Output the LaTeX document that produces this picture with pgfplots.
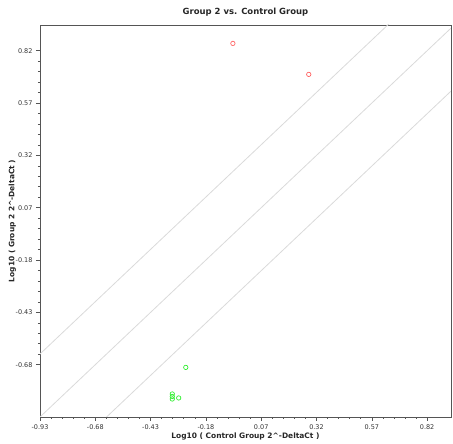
\documentclass[border=0pt]{standalone}
\usepackage{fontspec}
\setmainfont{DejaVu Sans}
\usepackage{pgfplots}
\pgfplotsset{compat=1.18}
\definecolor{frame}{HTML}{555555}
\definecolor{diag}{HTML}{DADADA}
\definecolor{upred}{HTML}{FF6464}
\definecolor{dngreen}{HTML}{33EE33}
\begin{document}
\begin{tikzpicture}
\useasboundingbox (0,0) rectangle (453bp,444bp);
\begin{axis}[
    at={(40bp,27bp)}, anchor=south west,
    scale only axis,
    width=411bp, height=392bp,
    xmin=-0.93, xmax=0.928,
    ymin=-0.93, ymax=0.943,
    axis line style={frame, line width=0.9pt},
    tick pos=left,
    tick align=outside,
    major tick length=4bp,
    minor tick length=2bp,
    every tick/.style={frame, line width=0.6pt},
    xtick={-0.93,-0.68,-0.43,-0.18,0.07,0.32,0.57,0.82},
    xticklabels={-0.93,-0.68,-0.43,-0.18,0.07,0.32,0.57,0.82},
    ytick={-0.68,-0.43,-0.18,0.07,0.32,0.57,0.82},
    yticklabels={-0.68,-0.43,-0.18,0.07,0.32,0.57,0.82},
    minor tick num=4,
    tick label style={font=\fontsize{6.5}{7}\selectfont, text=black!80},
    title={Group 2 vs. Control Group},
    title style={font=\bfseries\fontsize{8.5}{10}\selectfont, text=black!85, yshift=-1bp},
    xlabel={Log10 ( Control Group 2\textasciicircum-DeltaCt )},
    ylabel={Log10 ( Group 2 2\textasciicircum-DeltaCt )},
    label style={font=\bfseries\fontsize{7.5}{9}\selectfont, text=black!85},
    xlabel style={yshift=3bp},
    ylabel style={yshift=-7bp},
    clip=true,
]
% fold-change guide lines (log10 2 = 0.301)
\addplot[diag, line width=0.8pt] coordinates {(-0.93,-0.93) (0.95,0.95)};
\addplot[diag, line width=0.8pt] coordinates {(-0.93,-0.629) (0.95,1.251)};
\addplot[diag, line width=0.8pt] coordinates {(-0.93,-1.231) (0.95,0.649)};

% up-regulated
\addplot[only marks, mark=o, mark size=2.2bp, upred, mark options={line width=0.7pt}] coordinates {
    (-0.058, 0.855) (0.285, 0.707)
};
% down-regulated
\addplot[only marks, mark=o, mark size=2.2bp, dngreen, mark options={line width=0.7pt}] coordinates {
    (-0.271, -0.693) (-0.332, -0.820) (-0.332, -0.832) (-0.332, -0.844) (-0.303, -0.839)
};
\end{axis}
\end{tikzpicture}
\end{document}
